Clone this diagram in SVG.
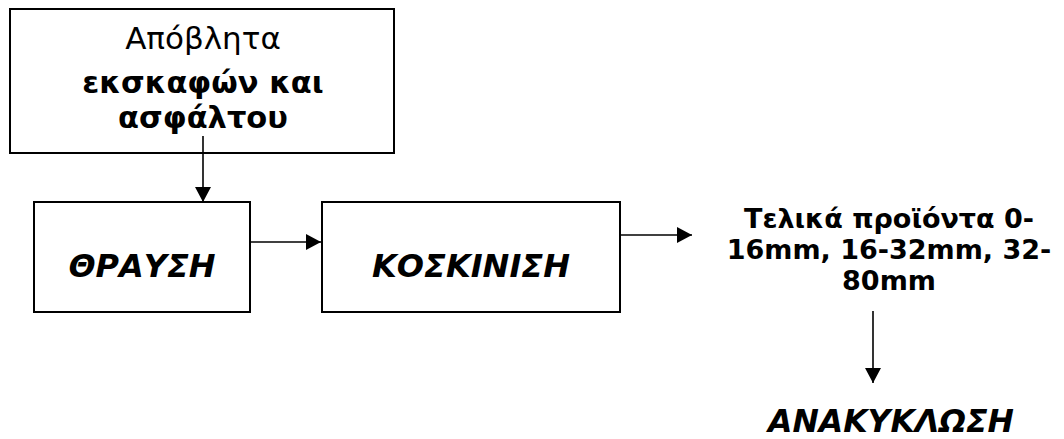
<svg xmlns="http://www.w3.org/2000/svg" width="1064" height="439" viewBox="0 0 1064 439">
<style>
.box{fill:#fff;stroke:#000;stroke-width:2}
.t{font-family:"DejaVu Sans","Liberation Sans",sans-serif;fill:#000;text-anchor:middle}
.b{font-weight:bold}
.bi{font-weight:bold;font-style:italic}
.c{stroke:#000;stroke-width:1.6;fill:none}
</style>
<defs>
<marker id="ah" markerWidth="16" markerHeight="16" refX="15" refY="8" orient="auto" markerUnits="userSpaceOnUse">
<path d="M0,0 L15,8 L0,16 Z" fill="#000"/>
</marker>
</defs>
<rect width="1064" height="439" fill="#fff"/>
<g id="n1">
<rect class="box" x="10" y="9" width="384" height="144"/>
<text class="t" x="203" y="49" font-size="31">Απόβλητα</text>
<text class="t b" x="203" y="93" font-size="30.5">εκσκαφών και</text>
<text class="t b" x="203" y="128" font-size="30.5">ασφάλτου</text>
</g>
<g id="n2">
<rect class="box" x="34" y="202" width="216" height="110"/>
<text class="t bi" x="142" y="277" font-size="32">ΘΡΑΥΣΗ</text>
</g>
<g id="n3">
<rect class="box" x="322" y="202" width="298" height="110"/>
<text class="t bi" x="471" y="277" font-size="32">ΚΟΣΚΙΝΙΣΗ</text>
</g>
<g id="n4">
<text class="t b" x="889" y="228" font-size="27">Τελικά προϊόντα 0-</text>
<text class="t b" x="889" y="259" font-size="27">16mm, 16-32mm, 32-</text>
<text class="t b" x="889" y="290" font-size="27">80mm</text>
</g>
<g id="n5">
<text class="t bi" x="891" y="432" font-size="31.5">ΑΝΑΚΥΚΛΩΣΗ</text>
</g>
<g id="connectors">
<line class="c" x1="203" y1="136" x2="203" y2="202" marker-end="url(#ah)"/>
<line class="c" x1="250" y1="242" x2="321" y2="242" marker-end="url(#ah)"/>
<line class="c" x1="620" y1="235" x2="692" y2="235" marker-end="url(#ah)"/>
<line class="c" x1="873" y1="311" x2="873" y2="383" marker-end="url(#ah)"/>
</g>
</svg>
